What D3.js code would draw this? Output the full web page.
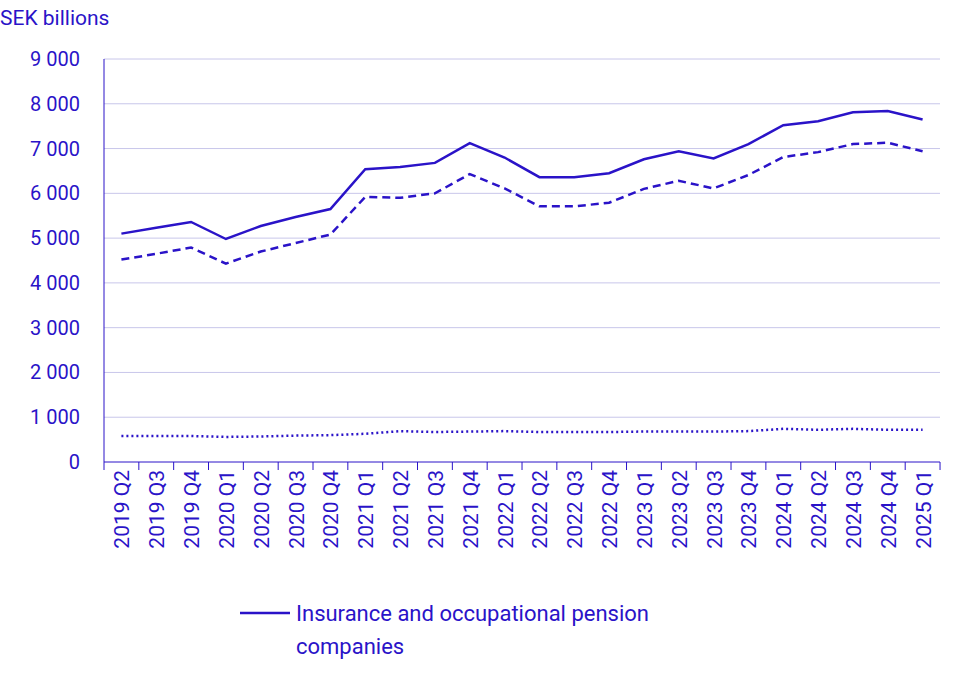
<!DOCTYPE html>
<meta charset="utf-8">
<style>
body { margin: 0; font-family: Roboto, sans-serif; background: #fff; }
</style>
<body>
<script src="https://d3js.org/d3.v7.min.js"></script>
<script>
var quarters = ["2019 Q2","2019 Q3","2019 Q4","2020 Q1","2020 Q2","2020 Q3","2020 Q4",
  "2021 Q1","2021 Q2","2021 Q3","2021 Q4","2022 Q1","2022 Q2","2022 Q3","2022 Q4",
  "2023 Q1","2023 Q2","2023 Q3","2023 Q4","2024 Q1","2024 Q2","2024 Q3","2024 Q4","2025 Q1"];
var total = [5100,5230,5360,4980,5270,5470,5650,6540,6590,6680,7120,6800,6360,6360,6450,
  6760,6940,6780,7100,7520,7610,7810,7840,7650];
var dashed = [4520,4650,4790,4430,4700,4890,5080,5920,5900,6000,6430,6110,5710,5710,5790,
  6100,6280,6110,6410,6810,6920,7100,7130,6940];
var dotted = [580,580,580,560,570,590,600,630,690,670,680,690,670,670,670,
  680,680,680,690,740,720,740,720,720];
var yTicks = [0,1000,2000,3000,4000,5000,6000,7000,8000,9000];

var color = "#2a13c8";
var width = 965, height = 680;
var mLeft = 104, mRight = 940, mTop = 59, mBottom = 462;

var svg = d3.select("body").append("svg").attr("width", width).attr("height", height);

var x = d3.scalePoint().domain(quarters).range([mLeft + 17.4, mRight - 17.4]);
var y = d3.scaleLinear().domain([0, 9000]).range([mBottom, mTop]);
var fmt = function(d) { return d3.format(",")(d).replace(",", " "); };

svg.selectAll(".grid").data(yTicks.slice(1)).enter().append("line")
    .attr("x1", mLeft).attr("x2", mRight)
    .attr("y1", function(d) { return y(d); }).attr("y2", function(d) { return y(d); })
    .attr("stroke", "#c8c6ea").attr("stroke-width", 1);

svg.selectAll(".ylab").data(yTicks).enter().append("text")
    .attr("x", 80).attr("y", function(d) { return y(d) + 7; })
    .attr("text-anchor", "end").attr("font-size", 20).style("fill", color)
    .text(fmt);

svg.append("text").attr("x", 0).attr("y", 25).attr("font-size", 21).style("fill", color).text("SEK billions");

svg.append("line").attr("x1", mLeft).attr("x2", mLeft).attr("y1", mTop).attr("y2", mBottom).attr("stroke", color);
svg.append("line").attr("x1", mLeft).attr("x2", mRight).attr("y1", mBottom).attr("y2", mBottom).attr("stroke", color);

var step = x.step();
var bounds = d3.range(quarters.length + 1).map(function(i) { return mLeft + i * step; });
svg.selectAll(".tick").data(bounds).enter().append("line")
    .attr("x1", function(d) { return d; }).attr("x2", function(d) { return d; })
    .attr("y1", mBottom).attr("y2", mBottom + 8).attr("stroke", color);

svg.selectAll(".xlab").data(quarters).enter().append("text")
    .attr("transform", function(d) { return "translate(" + (x(d) + 8) + "," + (mBottom + 8) + ") rotate(-90)"; })
    .attr("text-anchor", "end").attr("font-size", 21).style("fill", color)
    .text(function(d) { return d; });

var line = d3.line().x(function(d, i) { return x(quarters[i]); }).y(function(d) { return y(d); });

svg.append("path").datum(total).attr("d", line).attr("fill", "none").attr("stroke", color).attr("stroke-width", 2.5);
svg.append("path").datum(dashed).attr("d", line).attr("fill", "none").attr("stroke", color).attr("stroke-width", 2.5).attr("stroke-dasharray", "8,5");
svg.append("path").datum(dotted).attr("d", line).attr("fill", "none").attr("stroke", color).attr("stroke-width", 2.5).attr("stroke-dasharray", "2,3");

svg.append("line").attr("x1", 240).attr("x2", 290).attr("y1", 613).attr("y2", 613).attr("stroke", color).attr("stroke-width", 2.5);
svg.append("text").attr("x", 296).attr("y", 621).attr("font-size", 22).style("fill", color).text("Insurance and occupational pension");
svg.append("text").attr("x", 296).attr("y", 654).attr("font-size", 22).style("fill", color).text("companies");
</script>
